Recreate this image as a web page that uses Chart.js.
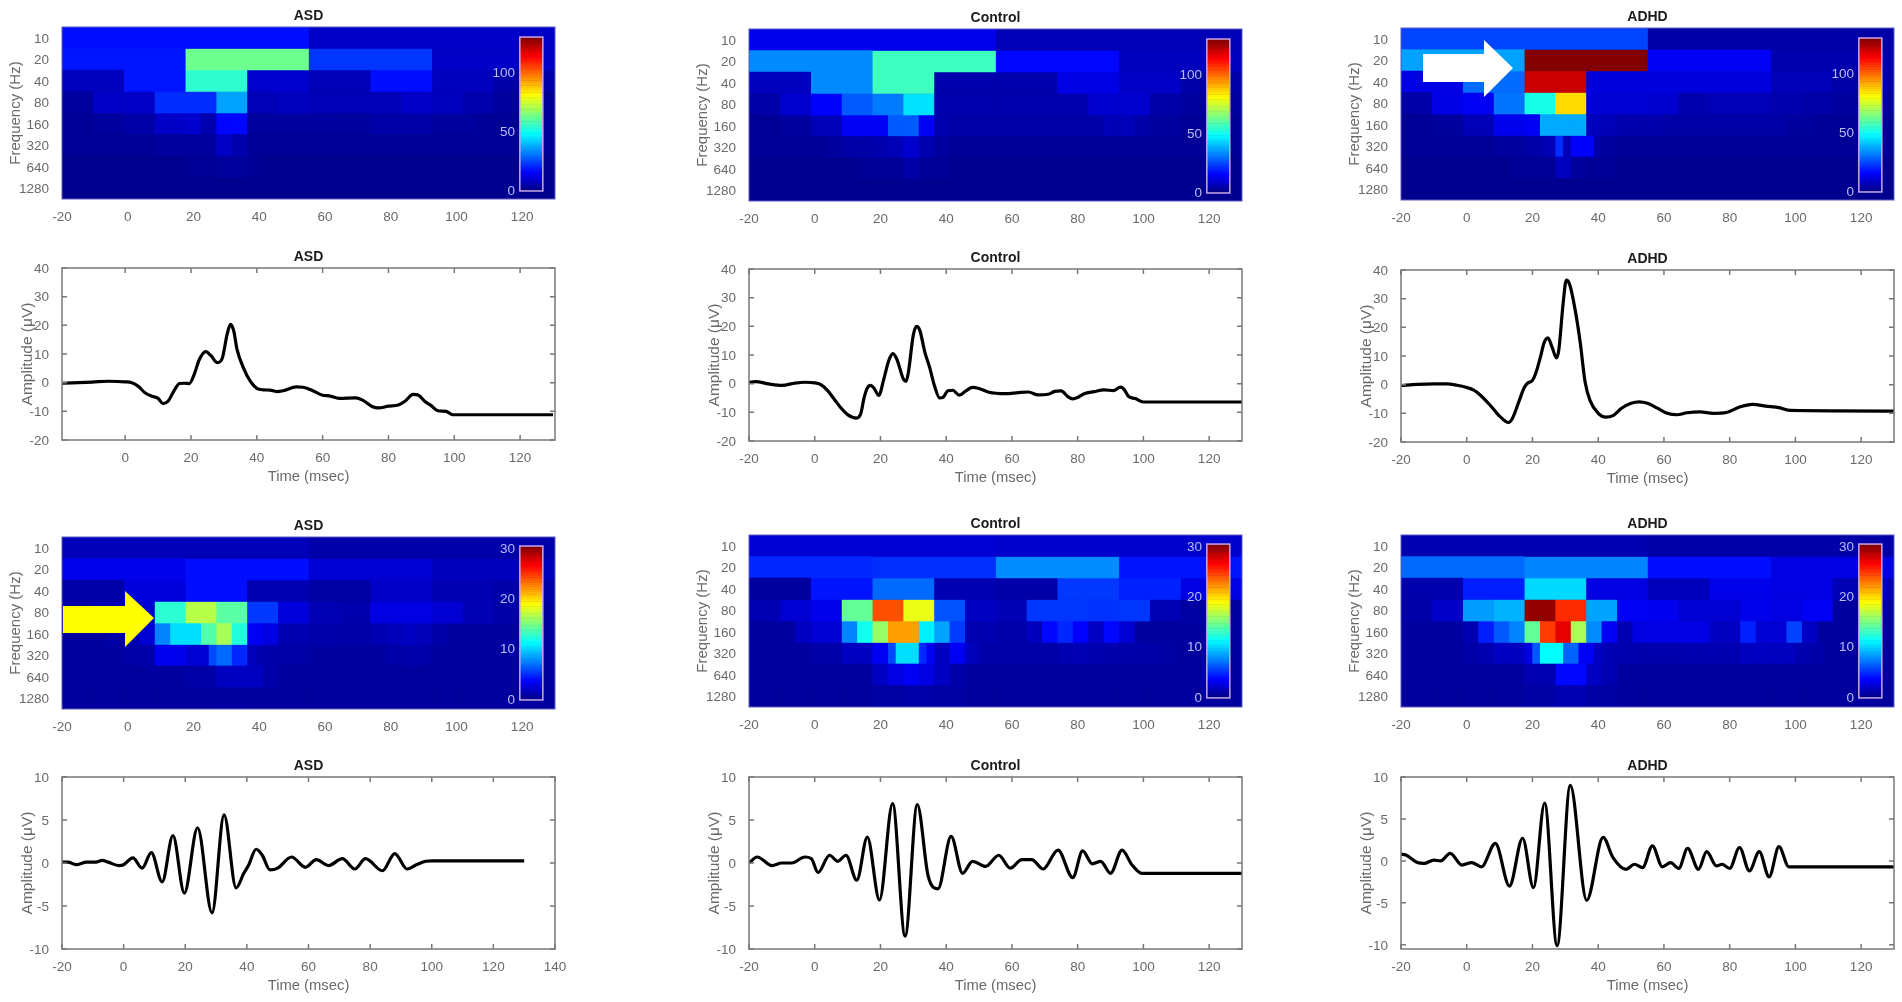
<!DOCTYPE html>
<html>
<head>
    <title>ASD / Control / ADHD time-frequency panels</title>
    <script src="https://cdn.jsdelivr.net/npm/chart.js"></script>
    <style>
        body { margin: 0; background: #fff; overflow: hidden; }
        canvas { position: absolute; filter: blur(0.6px); }
        svg { position: absolute; left: 0; top: 0; pointer-events: none; }
    </style>
</head>
<body>
    <div id="panels"></div>
    <svg width="1902" height="1002">
        <polygon fill="#fff" points="1423,54 1484,54 1484,40 1513,68 1484,97 1484,82 1423,82"/>
        <polygon fill="#ff0" points="63,606 125,606 125,591 154,618 125,647 125,633 63,633"/>
    </svg>

    <script>
        // Frequency rows and axis ticks
        const freqLabels = ['10', '20', '40', '80', '160', '320', '640', '1280'];
        const timeTicks = [-20, 0, 20, 40, 60, 80, 100, 120, 140];
        const erpTicks = [-20, -10, 0, 10, 20, 30, 40];
        const filteredTicks = [-10, -5, 0, 5, 10];
        const topBarTicks = [0, 50, 100];
        const bottomBarTicks = [0, 10, 20, 30];
        const topBarMax = 130.5;
        const bottomBarMax = 30.6;

        // Each heatmap: one list per frequency row, cells share the -20..130 ms span evenly
        const asdTopHeat = [
            [18, 9],
            [19, 63, 23, 9],
            [8, 19, 55, 10, 7, 18, 8, 5],
            [4, 9, 9, 22, 22, 37, 7, 8, 7, 7, 7, 9, 8, 6, 4, 3],
            [3, 3, 4, 4, 5, 5, 9, 9, 10, 6, 17, 17, 4, 4, 4, 4, 4, 4, 4, 4, 5, 5, 5, 5, 4, 4, 4, 3, 3, 3, 3, 3],
            [3, 3, 3, 3, 3, 3, 4, 4, 4, 4, 9, 6, 3, 3, 3, 3, 3, 3, 3, 3, 3, 3, 3, 3, 3, 3, 3, 3, 3, 3, 3, 3],
            [2, 2, 2, 2, 2, 2, 2, 2, 3, 3, 4, 4, 3, 2, 2, 2, 2, 2, 2, 2, 2, 2, 2, 2, 2, 2, 2, 2, 2, 2, 2, 2],
            [2, 2, 2, 2, 2, 2, 2, 2, 2, 2, 2, 2, 2, 2, 2, 2]
        ];
        const controlTopHeat = [
            [14, 7],
            [34, 57, 17, 8],
            [8, 34, 57, 6, 6, 13, 9, 5],
            [5, 10, 16, 28, 32, 45, 6, 6, 6, 6, 6, 10, 10, 5, 4, 4],
            [3, 3, 4, 4, 7, 7, 15, 15, 15, 28, 28, 15, 6, 5, 5, 5, 5, 5, 5, 5, 5, 5, 5, 7, 7, 5, 4, 4, 3, 3, 3, 3],
            [3, 3, 3, 3, 3, 4, 5, 5, 6, 7, 10, 6, 4, 3, 3, 3, 3, 3, 3, 3, 3, 3, 3, 3, 3, 3, 3, 3, 3, 3, 3, 3],
            [2, 2, 2, 2, 2, 2, 2, 3, 3, 3, 5, 3, 3, 2, 2, 2, 2, 2, 2, 2, 2, 2, 2, 2, 2, 2, 2, 2, 2, 2, 2, 2],
            [2, 2, 2, 2, 2, 2, 2, 2, 2, 2, 2, 2, 2, 2, 2, 2]
        ];
        const adhdTopHeat = [
            [25, 5],
            [37, 130, 15, 6],
            [13, 30, 121, 12, 12, 12, 7, 5],
            [5, 13, 15, 31, 52, 86, 11, 11, 10, 6, 7, 7, 6, 5, 4, 4],
            [3, 3, 4, 4, 7, 7, 14, 14, 15, 38, 38, 38, 8, 7, 6, 6, 6, 5, 5, 5, 5, 5, 5, 5, 5, 4, 4, 3, 3, 3, 3, 3],
            [3, 3, 3, 3, 3, 3, 3, 3, 3, 3, 3, 3, 4, 4, 4, 4, 5, 5, 6, 7, 22, 7, 16, 16, 16, 5, 4, 4, 3, 3, 3, 3,
             3, 3, 3, 3, 3, 3, 3, 3, 3, 3, 3, 3, 3, 3, 3, 3, 3, 3, 3, 3, 3, 3, 3, 3, 3, 3, 3, 3, 3, 3, 3, 3],
            [2, 2, 2, 2, 2, 2, 2, 3, 3, 3, 8, 4, 3, 3, 2, 2, 2, 2, 2, 2, 2, 2, 2, 2, 2, 2, 2, 2, 2, 2, 2, 2],
            [2, 2, 2, 2, 2, 2, 2, 2, 2, 2, 2, 2, 2, 2, 2, 2]
        ];
        const asdBottomHeat = [
            [1.7, 1.3],
            [3.2, 4.2, 2.5, 1.8],
            [1.2, 2.8, 4.2, 1.5, 1.1, 2.2, 1.5, 1.2],
            [1.1, 1.5, 2.5, 12.8, 17, 14.2, 5.5, 2.8, 1.6, 1.4, 3, 3, 2.5, 1.6, 1.2, 1],
            [1, 1, 1, 1.2, 1.5, 2.5, 7.8, 10.5, 10.5, 14, 16.5, 12.5, 3.5, 3, 1.5, 1.5, 1.3, 1.3, 1.2, 1.2, 1.5, 1.7, 2, 1.7, 1.2, 1, 1, 1, 1, 1, 1, 1],
            [1, 1, 1, 1, 1, 1, 1, 1, 1.2, 1.2, 1.3, 1.3, 3.3, 3.3, 3.3, 3.3, 2.5, 2.5, 2.5, 6, 7, 7, 5, 5, 1.8, 1.5, 1.4, 1.3, 1.2, 1.2, 1.2, 1.1,
             1, 1, 1, 1, 1, 1, 1, 1, 1, 1, 1.2, 1.2, 1.3, 1.3, 1.3, 1.2, 1, 1, 1, 1, 1, 1, 1, 1, 1, 1, 1, 1, 1, 1, 1, 1],
            [1, 1, 1, 1, 1, 1, 1, 1, 1.2, 1.2, 2, 2, 2, 1.2, 1, 1, 1, 1, 1, 1, 1, 1, 1, 1, 1, 1, 1, 1, 1, 1, 1, 1],
            [0.9, 0.9, 0.9, 0.9, 0.9, 1, 0.9, 0.9, 0.9, 0.9, 0.9, 0.9, 0.9, 0.9, 0.9, 0.9]
        ];
        const controlBottomHeat = [
            [2.5, 2.3],
            [5, 5.2, 8, 4.4],
            [1, 4.4, 7, 1.5, 1.2, 5.5, 4.8, 3],
            [1.5, 2.5, 3.2, 14.5, 24.4, 18.5, 6.3, 2, 1.6, 5.4, 5.4, 5.3, 5.4, 1.6, 1.1, 1],
            [1, 1, 1, 2, 2.5, 2.5, 7.8, 12, 16, 22, 22, 11, 8.7, 5.6, 1.5, 1.5, 1.3, 1.3, 1.8, 4, 5, 3.8, 2, 4, 2.5, 1, 1, 1, 1, 1, 1, 1],
            [1, 1, 1, 1, 1, 1, 1, 1, 1.2, 1.2, 1.3, 1.3, 2, 2, 2, 2, 3.5, 3.5, 6, 10.5, 10.5, 10.5, 5, 3.5, 2, 2, 3.5, 3.5, 2, 1.6, 1.2, 1.2,
             1.2, 1.2, 1.2, 1.2, 1.2, 1.2, 1.2, 1.2, 1.5, 1.5, 1.6, 1.6, 1.5, 1.5, 1.4, 1.4, 1.3, 1.3, 1.3, 1.2, 1.2, 1.1, 1.1, 1, 1, 1, 1, 1, 1, 1, 1, 1],
            [1, 1, 1, 1, 1, 1, 1, 1, 2, 3, 3.5, 3, 2, 1.2, 1, 1, 1, 1, 1, 1, 1, 1, 1, 1, 1, 1, 1, 1, 1, 1, 1, 1],
            [0.9, 0.9, 0.9, 0.9, 1.1, 1.3, 1.1, 0.9, 0.9, 0.9, 0.9, 0.9, 0.9, 0.9, 0.9, 0.9]
        ];
        const adhdBottomHeat = [
            [1.5, 1.2],
            [7, 7.8, 4.2, 3],
            [1.4, 4.7, 10.3, 3, 1.8, 3.2, 3, 1.6],
            [1.2, 2.2, 8.5, 9.2, 30, 25.5, 8.7, 3.5, 3.3, 2.5, 2.5, 3.2, 3, 3.5, 1, 1],
            [1, 1, 1, 1, 1.5, 4.7, 6.5, 7.8, 14.5, 25, 27.5, 16.5, 8, 3.5, 1.5, 3, 3, 3, 3, 3, 2, 2, 4.8, 2.5, 2.5, 5.8, 2, 1, 1, 1, 1, 1],
            [1, 1, 1, 1, 1, 1, 1, 1, 1.2, 1.2, 1.5, 1.5, 2, 2, 2, 2, 3, 6.5, 11.5, 11.5, 11.5, 6.8, 6.8, 3.5, 3.5, 2, 1.6, 1.5, 1.5, 1.5, 1.5, 1.4,
             1.4, 1.4, 1.4, 1.4, 1.5, 1.5, 1.5, 1.5, 1.5, 1.5, 1.5, 1.5, 2, 2, 2, 2, 2, 2, 2, 1.5, 1.5, 1.2, 1.2, 1, 1, 1, 1, 1, 1, 1, 1, 1],
            [1, 1, 1, 1, 1, 1, 1, 1, 1.5, 1.5, 4, 4, 2, 1.5, 1, 1, 1, 1, 1, 1, 1, 1, 1, 1, 1, 1, 1, 1, 1, 1, 1, 1],
            [0.9, 0.9, 0.9, 0.9, 1.1, 1.5, 1.1, 0.9, 0.9, 0.9, 0.9, 0.9, 0.9, 0.9, 0.9, 0.9]
        ];

        // Evoked response traces (msec, microvolts)
        const asdErpTime = [-19.2, -10, -5, 0, 2, 4, 6, 8, 10, 11.5, 13, 15, 16.5, 18, 19.5, 21, 22.5, 24.5, 26, 28, 29.5, 31, 32, 33, 34, 36, 38, 40, 42, 44, 46, 48, 52, 54, 57, 60, 62, 65, 70, 72, 75, 77, 80, 83, 85, 87.5, 89, 91, 93, 95, 97.5, 99.5, 110, 130];
        const asdErpAmp = [-0.2, 0.2, 0.5, 0.3, 0, -1.3, -3.5, -4.7, -5.5, -7.3, -6.5, -2.5, -0.3, -0.2, -0.3, 3, 8, 10.8, 9.5, 7, 8.5, 17, 20.3, 18, 11.5, 5, 0.5, -2, -2.5, -2.6, -3.1, -2.8, -1.5, -1.6, -2.8, -4.4, -4.6, -5.5, -5.3, -6, -8.3, -8.8, -8.2, -7.8, -6.5, -4.1, -4.3, -6.5, -8, -9.8, -10, -11.2, -11.2, -11.2];
        const controlErpTime = [-20, -18, -14, -10, -6, -3, 0, 2, 4, 6, 8, 10, 12.7, 14, 15, 16, 17, 18, 19.5, 21, 22.5, 23.8, 25, 27, 27.8, 28.5, 30, 31, 32, 33.5, 35, 36.5, 38, 39, 40.5, 42, 44, 46, 48, 50, 53, 58, 62, 65, 68, 71, 73, 75, 77, 78.5, 80, 82, 85, 88, 91, 93, 94, 95.5, 97.5, 100, 130];
        const controlErpAmp = [0.5, 0.7, -0.1, -0.6, 0.2, 0.5, 0.3, -0.4, -2.5, -5.5, -8.5, -10.8, -12, -10.5, -5, -1.5, -0.6, -1.5, -4.1, 1.5, 8, 10.5, 8.5, 1.5, 0.8, 4, 17, 20, 18.5, 11, 5.5, -1, -5, -4.8, -2.5, -2.3, -4, -2.5, -1.3, -1.7, -3, -3.5, -3.1, -2.9, -3.9, -3.7, -2.7, -2.5, -4.5, -5.3, -4.8, -3.5, -2.8, -2.2, -2.4, -1.2, -1.8, -4.5, -5.2, -6.4, -6.4];
        const adhdErpTime = [-20, -15, -10, -6, -3, 0, 2, 4, 7, 10, 12.7, 14, 16, 17.5, 18.5, 20, 21, 22.5, 23.5, 24.7, 26, 27.3, 28, 29.3, 30.3, 31.3, 33, 34.5, 36, 37.5, 40, 42.3, 44.5, 47, 50, 52.5, 55, 58, 61, 64, 67, 71, 75, 79, 83, 87, 91, 95, 98.5, 130];
        const adhdErpAmp = [-0.3, 0.1, 0.3, 0.3, -0.2, -1, -1.8, -3.5, -7, -11, -13.2, -11.5, -5.5, -1, 0.5, 1.5, 4, 10, 14.5, 16.3, 13, 9.3, 12, 28, 36.5, 35, 26, 15, 1, -5.5, -10, -11.3, -10.8, -8.3, -6.5, -6, -6.5, -8.2, -10, -10.5, -9.8, -9.5, -10, -9.7, -7.8, -6.9, -7.5, -8, -9, -9.2];

        // High frequency band traces
        const asdFiltTime = [-20, -18, -15.5, -12, -9, -7, -5, -1.5, 0, 3, 6, 9, 12.5, 16, 19.7, 24, 28.7, 32.6, 36.5, 39, 40.5, 43, 45, 47.5, 50, 54.5, 59, 62.5, 66.5, 71, 75, 78.5, 84, 88, 92, 95, 98, 100, 130];
        const asdFiltAmp = [0.1, 0.1, -0.2, 0.1, 0.1, 0.3, 0.1, -0.3, -0.2, 0.6, -0.6, 1.2, -2.2, 3.2, -3.5, 4.1, -5.8, 5.6, -2.9, -1.2, -0.3, 1.6, 0.9, -0.8, -0.6, 0.7, -0.5, 0.4, -0.3, 0.5, -0.7, 0.5, -0.9, 1.1, -0.7, -0.2, 0.2, 0.25, 0.25];
        const controlFiltTime = [-20, -17.5, -13, -10, -7, -3, -1, 1, 4.5, 7, 9.5, 12.8, 16, 19.7, 23.7, 27.5, 31.2, 34.5, 37.5, 41.5, 45, 48, 52, 56, 59.5, 63, 66, 69.5, 74, 78.5, 81.5, 84.5, 87, 90, 93.5, 96.5, 99.5, 130];
        const controlFiltAmp = [0, 0.7, -0.3, 0, 0, 0.7, 0.5, -1.1, 0.9, 0.2, 0.9, -2, 3, -4.3, 6.9, -8.5, 6.8, -1.5, -3, 3.1, -1.2, 0.2, -0.4, 0.9, -0.6, 0.4, 0.4, -0.7, 1.5, -1.7, 1.4, -0.1, 0.2, -1.2, 1.5, -0.2, -1.2, -1.2];
        const adhdFiltTime = [-20, -18.5, -15, -13, -10, -8, -5, -1.5, 1.5, 4.5, 8.7, 13, 17, 20.3, 23.7, 27.5, 31.5, 36.5, 41.5, 44.5, 48.5, 51, 53.5, 56.5, 59.5, 62, 64.5, 67.2, 70.5, 73, 76, 77.7, 80, 83, 86, 89, 92, 95, 98, 100, 130];
        const adhdFiltAmp = [0.8, 0.7, -0.2, -0.3, 0.1, 0, 0.9, -0.5, -0.2, -0.7, 2.1, -3, 2.7, -3.2, 6.9, -10.1, 9, -4.7, 2.8, 0.4, -1, -0.4, -0.8, 1.8, -0.7, -0.2, -0.9, 1.5, -1, 1.1, -0.6, -0.4, -0.9, 1.6, -1.2, 1.1, -1.9, 1.7, -0.7, -0.7, -0.7];

        const FONT = '"Liberation Sans", Arial, sans-serif';
        const TEXT = '#6a6a6a';

        function jet(t) {
            t = Math.min(1, Math.max(0, t));
            const band = c => Math.round(255 * Math.min(1, Math.max(0, 1.5 - Math.abs(4 * t - c))));
            return `rgb(${band(3)}, ${band(2)}, ${band(1)})`;
        }

        function addCanvas(left, top, width, height) {
            const canvas = document.createElement('canvas');
            canvas.width = width;
            canvas.height = height;
            canvas.style.left = left + 'px';
            canvas.style.top = top + 'px';
            canvas.style.width = width + 'px';
            canvas.style.height = height + 'px';
            document.getElementById('panels').appendChild(canvas);
            return canvas;
        }

        // Box and inward ticks, MATLAB style
        const framePlugin = {
            id: 'frame',
            beforeDatasetsDraw(chart, args, opts) {
                // dark backing so the joins between heat cells do not show white
                if (!opts.fill) return;
                const {ctx, chartArea: a} = chart;
                ctx.save();
                ctx.fillStyle = opts.fill;
                ctx.fillRect(a.left, a.top, a.right - a.left, a.bottom - a.top);
                ctx.restore();
            },
            afterDatasetsDraw(chart, args, opts) {
                const {ctx, chartArea: a, scales} = chart;
                ctx.save();
                ctx.strokeStyle = opts.color;
                ctx.lineWidth = opts.width;
                ctx.strokeRect(a.left, a.top, a.right - a.left, a.bottom - a.top);
                if (opts.ticks) {
                    ctx.beginPath();
                    scales.x.ticks.forEach(t => {
                        const x = scales.x.getPixelForValue(t.value);
                        ctx.moveTo(x, a.top); ctx.lineTo(x, a.top + 5);
                        ctx.moveTo(x, a.bottom); ctx.lineTo(x, a.bottom - 5);
                    });
                    scales.y.ticks.forEach(t => {
                        const y = scales.y.getPixelForValue(t.value);
                        ctx.moveTo(a.left, y); ctx.lineTo(a.left + 5, y);
                        ctx.moveTo(a.right, y); ctx.lineTo(a.right - 5, y);
                    });
                    ctx.stroke();
                }
                ctx.restore();
            }
        };

        // Colour bar sits inside the plot, drawn on its own value scale
        const barPlugin = {
            id: 'jetBar',
            afterDatasetsDraw(chart, args, opts) {
                const {ctx, scales: {x, bar}} = chart;
                const left = x.getPixelForValue(119.3);
                const right = x.getPixelForValue(126.3);
                const levels = 64;
                ctx.save();
                for (let i = 0; i < levels; i++) {
                    const y0 = bar.getPixelForValue(opts.max * i / levels);
                    const y1 = bar.getPixelForValue(opts.max * (i + 1) / levels);
                    ctx.fillStyle = jet((i + 0.5) / levels);
                    ctx.fillRect(left, y1, right - left, y0 - y1 + 0.5);
                }
                ctx.strokeStyle = '#c9a6e6';
                ctx.lineWidth = 1.5;
                ctx.strokeRect(left, bar.getPixelForValue(opts.max), right - left,
                    bar.getPixelForValue(0) - bar.getPixelForValue(opts.max));
                ctx.restore();
            }
        };

        function axisText(size, weight) {
            return {family: FONT, size: size, weight: weight || 'normal'};
        }

        function titleOptions(text) {
            return {display: true, text: text, color: '#1c1c1c', font: axisText(14, 'bold'),
                fullSize: false, padding: {top: 7.4, bottom: 2.8}};
        }

        function fixedTicks(values) {
            return scale => {
                scale.ticks = values.filter(v => v >= scale.min && v <= scale.max).map(v => ({value: v}));
            };
        }

        function heatChart(panel, rows, barMax, barMin, barTop, barTicks) {
            const cellCount = Math.max(...rows.map(r => r.length));
            const datasets = [];
            for (let k = 0; k < cellCount; k++) {
                datasets.push({
                    data: rows.map(r => k < r.length ? [-20 + 150 * k / r.length, -20 + 150 * (k + 1) / r.length] : null),
                    backgroundColor: rows.map(r => k < r.length ? jet(r[k] / barMax) : 'transparent'),
                    borderWidth: 0,
                    barPercentage: 1,
                    categoryPercentage: 1,
                    grouped: false
                });
            }
            const right = panel.left > 1000 ? 8 : 24;
            const canvas = addCanvas(panel.left - 62, panel.top - 27, panel.width + 62 + right, panel.height + 27 + 46);
            new Chart(canvas, {
                type: 'bar',
                data: {labels: freqLabels, datasets: datasets},
                plugins: [framePlugin, barPlugin],
                options: {
                    indexAxis: 'y',
                    responsive: false,
                    animation: false,
                    layout: {padding: {right: right}},
                    plugins: {
                        legend: {display: false},
                        tooltip: {enabled: false},
                        title: titleOptions(panel.title),
                        frame: {color: '#5c5cc0', width: 1, fill: '#000098'},
                        jetBar: {max: barMax}
                    },
                    scales: {
                        x: {
                            type: 'linear', min: -20, max: 130,
                            grid: {display: false}, border: {display: false},
                            afterBuildTicks: fixedTicks(timeTicks),
                            afterFit: s => { s.height = 46; },
                            ticks: {color: TEXT, font: axisText(13.5), padding: 2, maxRotation: 0, autoSkip: false}
                        },
                        y: {
                            type: 'category',
                            grid: {display: false}, border: {display: false},
                            afterFit: s => { s.width = 62; },
                            ticks: {color: TEXT, font: axisText(13.5), padding: 5, autoSkip: false, labelOffset: 1.5},
                            title: {display: true, text: 'Frequency (Hz)', color: TEXT, font: axisText(15), padding: {top: 6.6, bottom: 0}}
                        },
                        bar: {
                            type: 'linear', axis: 'y', min: barMin, max: barTop,
                            offset: false,
                            position: {x: 117.8},
                            grid: {display: false}, border: {display: false},
                            afterBuildTicks: fixedTicks(barTicks),
                            ticks: {color: '#bcbcf8', font: axisText(13.5), z: 1, padding: 0, autoSkip: false}
                        }
                    }
                }
            });
        }

        function lineChart(panel, times, amps, xMin, xMax, yMin, yMax, yTicks) {
            const right = panel.left > 1000 ? 8 : 24;
            const canvas = addCanvas(panel.left - 62, panel.top - 27, panel.width + 62 + right, panel.height + 27 + 46);
            new Chart(canvas, {
                type: 'line',
                data: {
                    datasets: [{
                        data: times.map((t, i) => ({x: t, y: amps[i]})),
                        borderColor: '#000',
                        borderWidth: 3.2,
                        pointRadius: 0,
                        cubicInterpolationMode: 'monotone'
                    }]
                },
                plugins: [framePlugin],
                options: {
                    responsive: false,
                    animation: false,
                    layout: {padding: {right: right}},
                    plugins: {
                        legend: {display: false},
                        tooltip: {enabled: false},
                        title: titleOptions(panel.title),
                        frame: {color: '#787878', width: 1.5, ticks: true}
                    },
                    scales: {
                        x: {
                            type: 'linear', min: xMin, max: xMax,
                            grid: {display: false}, border: {display: false},
                            afterBuildTicks: fixedTicks(timeTicks),
                            afterFit: s => { s.height = 46; },
                            ticks: {color: TEXT, font: axisText(13.5), padding: 2, maxRotation: 0, autoSkip: false},
                            title: {display: true, text: 'Time (msec)', color: TEXT, font: axisText(14.8), padding: {top: 0, bottom: 0.3}}
                        },
                        y: {
                            type: 'linear', min: yMin, max: yMax,
                            grid: {display: false}, border: {display: false},
                            afterBuildTicks: fixedTicks(yTicks),
                            afterFit: s => { s.width = 62; },
                            ticks: {color: TEXT, font: axisText(13.5), padding: 5, autoSkip: false, labelOffset: 1},
                            title: {display: true, text: 'Amplitude (\u03BCV)', color: TEXT, font: axisText(15.5), padding: {top: 18.6, bottom: 0}}
                        }
                    }
                }
            });
        }

        const W = 493;
        const H = 172;
        const X1 = 62, X2 = 749, X3 = 1401;

        heatChart({title: 'ASD', left: X1, top: 27, width: W, height: H}, asdTopHeat, topBarMax, -6.8, 139, topBarTicks);
        heatChart({title: 'Control', left: X2, top: 29, width: W, height: H}, controlTopHeat, topBarMax, -6.8, 139, topBarTicks);
        heatChart({title: 'ADHD', left: X3, top: 28, width: W, height: H}, adhdTopHeat, topBarMax, -6.8, 139, topBarTicks);

        lineChart({title: 'ASD', left: X1, top: 268, width: W, height: H}, asdErpTime, asdErpAmp, -19.2, 130.6, -20, 40, erpTicks);
        lineChart({title: 'Control', left: X2, top: 269, width: W, height: H}, controlErpTime, controlErpAmp, -20, 130, -20, 40, erpTicks);
        lineChart({title: 'ADHD', left: X3, top: 270, width: W, height: H}, adhdErpTime, adhdErpAmp, -20, 130, -20, 40, erpTicks);

        heatChart({title: 'ASD', left: X1, top: 537, width: W, height: H}, asdBottomHeat, bottomBarMax, -1.8, 32.4, bottomBarTicks);
        heatChart({title: 'Control', left: X2, top: 535, width: W, height: H}, controlBottomHeat, bottomBarMax, -1.8, 32.4, bottomBarTicks);
        heatChart({title: 'ADHD', left: X3, top: 535, width: W, height: H}, adhdBottomHeat, bottomBarMax, -1.8, 32.4, bottomBarTicks);

        lineChart({title: 'ASD', left: X1, top: 777, width: W, height: H}, asdFiltTime, asdFiltAmp, -20, 140, -10, 10, filteredTicks);
        lineChart({title: 'Control', left: X2, top: 777, width: W, height: H}, controlFiltTime, controlFiltAmp, -20, 130, -10, 10, filteredTicks);
        lineChart({title: 'ADHD', left: X3, top: 777, width: W, height: H}, adhdFiltTime, adhdFiltAmp, -20, 130, -10.5, 10, filteredTicks);
    </script>
</body>
</html>
